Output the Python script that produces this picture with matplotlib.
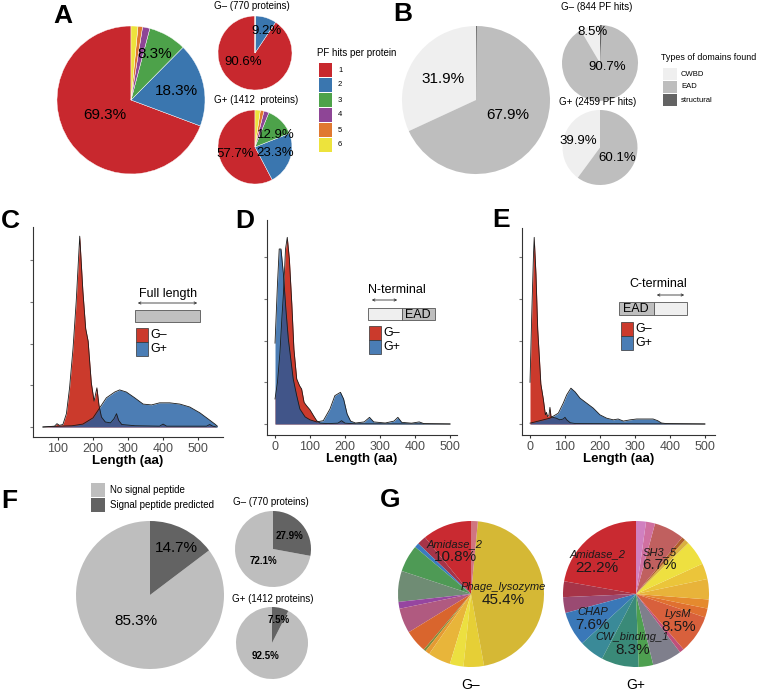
import numpy as np
import matplotlib.pyplot as plt
from matplotlib.patches import Rectangle, FancyArrowPatch

plt.rcParams['font.family'] = ['Liberation Sans', 'DejaVu Sans']

# ---- A: PF hits per protein (%)
pf_hits = ['1', '2', '3', '4', '5', '6']
pf_all = [69.3, 18.3, 8.3, 1.6, 1.0, 1.5]
pf_gneg = [90.6, 9.2, 0.2, 0.0, 0.0, 0.0]
pf_gpos = [57.7, 23.3, 12.9, 2.2, 1.6, 2.3]
pf_colors = ['#C8282E', '#3A76AF', '#4DA24A', '#8E4596', '#E07830', '#EDE33C']

# ---- B: types of domains found (%)
dom_types = ['CWBD', 'EAD', 'structural']
dom_all = [31.9, 67.9, 0.2]
dom_gneg = [8.5, 90.7, 0.8]
dom_gpos = [39.9, 60.1, 0.0]
dom_colors = ['#EFEFEF', '#BEBEBE', '#636363']

# ---- C/D/E: length densities (density x 1000)
c_len_neg = [57, 90, 97, 104, 114, 124, 133, 143, 152, 162, 171, 179, 186, 195, 203, 211, 217, 224,
             235, 250, 260, 267, 273, 282, 320, 390, 400, 410, 524, 533, 542, 552]
c_den_neg = [0, 0.1, 0.4, 0.2, 0.3, 1.6, 4.7, 9.5, 15.1, 22.9, 16.3, 11.8, 10.3, 5.3, 3.1, 4.7, 2.6, 1.2,
             0.6, 0.5, 1.0, 1.6, 0.8, 0.3, 0.15, 0.1, 0.35, 0.1, 0.1, 0.3, 0.1, 0]
c_len_pos = [57, 105, 140, 171, 200, 219, 238, 262, 276, 295, 319, 343, 367, 390, 419, 448, 476, 505,
             529, 548, 555]
c_den_pos = [0, 0.1, 0.15, 0.35, 1.1, 2.3, 3.5, 4.2, 4.45, 4.2, 3.5, 2.75, 2.65, 2.9, 2.9, 2.75, 2.4, 1.7,
             0.95, 0.35, 0.1]

d_len_neg = [0, 7, 14, 20, 24, 30, 35, 41, 48, 54, 62, 70, 76, 83, 90, 100, 110, 119, 129, 150, 180,
             190, 200, 230, 500]
d_den_neg = [3.0, 5.0, 8.5, 13.0, 15.6, 21.0, 22.4, 19.8, 14.4, 9.0, 5.4, 4.6, 4.2, 2.6, 2.2, 1.7, 1.0,
             0.4, 0.1, 0.05, 0.1, 0.4, 0.1, 0.02, 0]
d_len_pos = [0, 7, 12, 17, 24, 31, 38, 45, 52, 62, 71, 86, 100, 119, 138, 157, 171, 187, 196, 206, 216,
             230, 255, 270, 282, 315, 340, 351, 362, 390, 412, 425, 500]
d_den_pos = [9.7, 16.8, 21.0, 21.0, 18.0, 13.8, 10.2, 7.8, 5.4, 3.4, 1.8, 0.85, 0.5, 0.25, 0.4, 1.8,
             3.4, 3.8, 3.0, 1.2, 0.35, 0.12, 0.25, 0.8, 0.25, 0.12, 0.35, 0.8, 0.2, 0.1, 0.25, 0.05, 0]

e_len_neg = [0, 5, 10, 12, 17, 22, 27, 31, 38, 44, 47, 50, 54, 57, 60, 65, 75, 85, 95, 100, 105, 115,
             130, 500]
e_den_neg = [5.0, 13.2, 20.4, 22.4, 18.0, 11.4, 7.8, 4.8, 3.0, 1.1, 1.4, 0.9, 1.0, 2.0, 0.9, 0.8, 0.7,
             0.5, 0.6, 0.8, 0.5, 0.15, 0.05, 0]
e_len_pos = [0, 57, 81, 95, 105, 117, 129, 143, 162, 181, 200, 219, 238, 252, 267, 286, 305, 324, 352,
             365, 376, 390, 500]
e_den_pos = [0.1, 0.7, 1.3, 2.5, 3.5, 4.3, 3.85, 3.1, 2.5, 1.9, 1.1, 0.7, 0.5, 0.6, 0.35, 0.5, 0.6, 0.6,
             0.6, 0.4, 0.12, 0.05, 0]
len_ticks_c = [100, 200, 300, 400, 500]
len_ticks_de = [0, 100, 200, 300, 400, 500]

# ---- F: signal peptide (%)
sp_classes = ['No signal peptide', 'Signal peptide predicted']
sp_all = [85.3, 14.7]
sp_gneg = [72.1, 27.9]
sp_gpos = [92.5, 7.5]
sp_colors = ['#BEBEBE', '#636363']

# ---- G: domain composition (%)
gneg_names = ['Amidase_2', '', '', '', '', '', '', '', '', '', '', '', '', 'Phage_lysozyme', '']
gneg_share = [10.8, 2.0, 1.0, 6.0, 6.8, 1.5, 5.5, 5.0, 0.5, 1.0, 5.0, 3.0, 4.5, 45.4, 1.5]
gneg_colors = ['#C92A31', '#A63448', '#3B7BC0', '#4E9A55', '#6F8C74', '#9646A0', '#B05A80', '#D9652D',
               '#7E8C3A', '#E59A32', '#E8B53A', '#ECE040', '#E6CF36', '#D5B835', '#D07580']
gpos_names = ['Amidase_2', '', '', 'CHAP', '', 'CW_binding_1', '', '', '', 'LysM', '', '', '', '', '',
              '', '', 'SH3_5', '', '']
gpos_share = [22.2, 3.5, 3.5, 7.6, 5.5, 8.3, 3.2, 6.5, 1.0, 8.5, 2.0, 2.0, 4.5, 3.5, 5.5, 1.0, 0.8, 6.7,
              2.0, 2.2]
gpos_colors = ['#C92A31', '#A63448', '#9A4A72', '#3A78B8', '#3A8A98', '#3A8A78', '#4EA050', '#7F7F8C',
               '#C0507A', '#D8603C', '#E07030', '#E58A2E', '#E8B33A', '#EBC53A', '#EEE040', '#D9B040',
               '#B0602A', '#C0605F', '#D070A0', '#D080C0']

W, H = 760, 693
fig = plt.figure(figsize=(W / 100, H / 100), dpi=100)


def fx(x):
    return x / W


def fy(y):
    return 1 - y / H


def txt(x, y, s, **kw):
    kw.setdefault('ha', 'center')
    kw.setdefault('va', 'center')
    fig.text(fx(x), fy(y), s, **kw)


def letter(x, y, s):
    # y is the baseline of the panel letter
    txt(x, y, s, ha='left', va='baseline', fontsize=19, fontweight='bold')


def rect(x, y, w, h, fc, ec='none', lw=0.6):
    fig.add_artist(Rectangle((fx(x), fy(y + h)), w / W, h / H, transform=fig.transFigure,
                             facecolor=fc, edgecolor=ec, linewidth=lw))


def pie(cx, cy, r, values, colors, labels=(), spots=(), fs=10, weight='normal', lw=0):
    ax = fig.add_axes([fx(cx - r), fy(cy + r), 2 * r / W, 2 * r / H])
    ax.pie(values, colors=colors, startangle=90, counterclock=True, radius=1,
           wedgeprops=dict(linewidth=lw, edgecolor='white'))
    ax.set_xlim(-1, 1)
    ax.set_ylim(-1, 1)
    ax.axis('off')
    for s, (dx, dy) in zip(labels, spots):
        ax.text(dx, dy, s, ha='center', va='center', fontsize=fs, fontweight=weight)
    return ax


def pct(v):
    return '%.1f%%' % v


# ---------------- A
letter(53, 23, 'A')
pie(131, 100, 74, pf_all, pf_colors, [pct(v) for v in pf_all[:3]],
    [(-0.36, -0.20), (0.62, 0.12), (0.32, 0.62)], fs=11, lw=0.3)
txt(252, 6, 'G– (770 proteins)', fontsize=7)
pie(255, 53, 37, pf_gneg, pf_colors, [pct(v) for v in pf_gneg[:2]],
    [(-0.32, -0.24), (0.32, 0.59)], fs=9.5, lw=0.3)
txt(256, 100, 'G+ (1412  proteins)', fontsize=7)
pie(255, 147, 37, pf_gpos, pf_colors, [pct(v) for v in pf_gpos[:3]],
    [(-0.54, -0.19), (0.54, -0.16), (0.57, 0.32)], fs=9.5, lw=0.3)
txt(317, 53, 'PF hits per protein', ha='left', fontsize=7)
for i, (lab, col) in enumerate(zip(pf_hits, pf_colors)):
    rect(319, 63 + 15 * i, 13, 14, col)
    txt(338, 70 + 15 * i, lab, ha='left', fontsize=5.5)

# ---------------- B
letter(393, 21, 'B')
pie(476, 100, 74, dom_all, dom_colors, [pct(v) for v in dom_all[:2]],
    [(-0.45, 0.28), (0.43, -0.20)], fs=11)
txt(597, 7, 'G– (844 PF hits)', fontsize=7)
pie(600, 63, 38, dom_gneg, dom_colors, [pct(v) for v in dom_gneg[:2]],
    [(-0.21, 0.82), (0.18, -0.11)], fs=9.5)
txt(598, 102, 'G+ (2459 PF hits)', fontsize=7)
pie(600, 147.5, 37.5, dom_gpos, dom_colors, [pct(v) for v in dom_gpos[:2]],
    [(-0.59, 0.17), (0.45, -0.28)], fs=9.5)
txt(661, 57, 'Types of domains found', ha='left', fontsize=6.4)
for i, (lab, col) in enumerate(zip(dom_types, dom_colors)):
    rect(663, 68 + 13 * i, 14, 12, col)
    txt(681, 74 + 13 * i, lab, ha='left', fontsize=5.5)

# ---------------- C/D/E density panels
red = '#CB3A2C'
blue = '#1F5DA1'


def density(box, base, xlim, xn, yn, xp, yp, ticks):
    l, r, t, b = box
    ax = fig.add_axes([fx(l), fy(b), (r - l) / W, (b - t) / H])
    ax.fill_between(xn, yn, color=red, linewidth=0)
    ax.plot(xn, yn, color='#1a1a1a', lw=0.6)
    ax.fill_between(xp, yp, color=blue, alpha=0.8, linewidth=0)
    ax.plot(xp, yp, color='#1a1a1a', lw=0.6)
    ax.set_xlim(xlim)
    ax.set_ylim(-(b - base) * 0.12, (base - t) * 0.12)
    ax.set_xticks(ticks)
    ax.set_yticks([0, 5, 10, 15, 20])
    ax.set_yticklabels([])
    ax.tick_params(axis='x', length=2, labelsize=9, labelcolor='#4D4D4D', pad=2, color='#333333')
    ax.tick_params(axis='y', length=2, color='#777777')
    for s in ['top', 'right']:
        ax.spines[s].set_visible(False)
    for s in ['left', 'bottom']:
        ax.spines[s].set_color('#333333')
        ax.spines[s].set_linewidth(0.8)
    ax.set_xlabel('Length (aa)', fontsize=9.5, fontweight='bold', labelpad=0)
    return ax


density((33, 223, 227, 437), 427, (28.6, 571), c_len_neg, c_den_neg, c_len_pos, c_den_pos, len_ticks_c)
density((267, 457, 220, 435), 424, (-22.9, 520), d_len_neg, d_den_neg, d_len_pos, d_den_pos, len_ticks_de)
density((522, 715, 228, 435), 424, (-22.9, 529), e_len_neg, e_den_neg, e_len_pos, e_den_pos, len_ticks_de)
letter(1, 228, 'C')
letter(235, 228, 'D')
letter(492, 227, 'E')


def arrow(x0, x1, y):
    fig.add_artist(FancyArrowPatch((fx(x0), fy(y)), (fx(x1), fy(y)), transform=fig.transFigure,
                                   arrowstyle='<->', mutation_scale=4, lw=0.6, color='#333333'))


def swatches(x, y):
    rect(x, y, 12, 14, red, ec='#333333', lw=0.5)
    rect(x, y + 14, 12, 14, '#4A7DB5', ec='#333333', lw=0.5)
    txt(x + 14, y + 7, 'G–', ha='left', fontsize=9)
    txt(x + 14, y + 21, 'G+', ha='left', fontsize=9)


# C key
txt(168, 294, 'Full length', fontsize=9)
arrow(135, 200, 303)
rect(135, 310, 65, 12, '#C0C0C0', ec='#555555')
swatches(136, 328)
# D key
txt(368, 290, 'N-terminal', ha='left', fontsize=9)
arrow(369, 400, 300)
rect(368, 308, 34, 12, '#EFEFEF', ec='#555555')
rect(402, 308, 33, 12, '#BEBEBE', ec='#555555')
txt(418, 314.5, 'EAD', fontsize=9)
swatches(369, 326)
# E key
txt(687, 284, 'C-terminal', ha='right', fontsize=9)
arrow(654, 687, 295)
rect(619, 302, 35, 13, '#BEBEBE', ec='#555555')
rect(654, 302, 33, 13, '#EFEFEF', ec='#555555')
txt(636, 309, 'EAD', fontsize=9)
swatches(621, 322)

# ---------------- F
letter(1, 508, 'F')
for i, (lab, col) in enumerate(zip(sp_classes, sp_colors)):
    rect(91, 483 + 15 * i, 14, 14, col)
    txt(110, 490 + 15 * i, lab, ha='left', fontsize=7)
pie(150, 595, 74, sp_all, sp_colors, [pct(v) for v in sp_all],
    [(-0.19, -0.35), (0.35, 0.64)], fs=11)
txt(271, 502, 'G– (770 proteins)', fontsize=7)
pie(273, 549, 38, sp_gneg, sp_colors, [pct(v) for v in sp_gneg],
    [(-0.25, -0.32), (0.43, 0.34)], fs=7, weight='bold')
txt(273, 599, 'G+ (1412 proteins)', fontsize=7)
pie(272, 643, 36, sp_gpos, sp_colors, [pct(v) for v in sp_gpos],
    [(-0.17, -0.35), (0.19, 0.65)], fs=7, weight='bold')

# ---------------- G
letter(380, 507, 'G')


def comp_pie(cx, names, share, colors, spots, title):
    ax = pie(cx, 594, 73, share, colors)
    named = [(n, v) for n, v in zip(names, share) if n]
    for (n, v), (dx, dy) in zip(named, spots):
        ax.annotate(n, (dx, dy), xytext=(0, 4.7), textcoords='offset points', ha='center',
                    va='center', fontsize=8, style='italic', color='#1a1a1a')
        ax.annotate(pct(v), (dx, dy), xytext=(0, -4.7), textcoords='offset points', ha='center',
                    va='center', fontsize=11, color='#1a1a1a')
    txt(cx, 685, title, fontsize=10)


comp_pie(471, gneg_names, gneg_share, gneg_colors, [(-0.22, 0.60), (0.44, 0.01)], 'G–')
comp_pie(636, gpos_names, gpos_share, gpos_colors,
         [(-0.53, 0.45), (-0.59, -0.34), (-0.05, -0.68), (0.58, -0.36), (0.32, 0.49)], 'G+')

fig.savefig('out.png', dpi=100)
